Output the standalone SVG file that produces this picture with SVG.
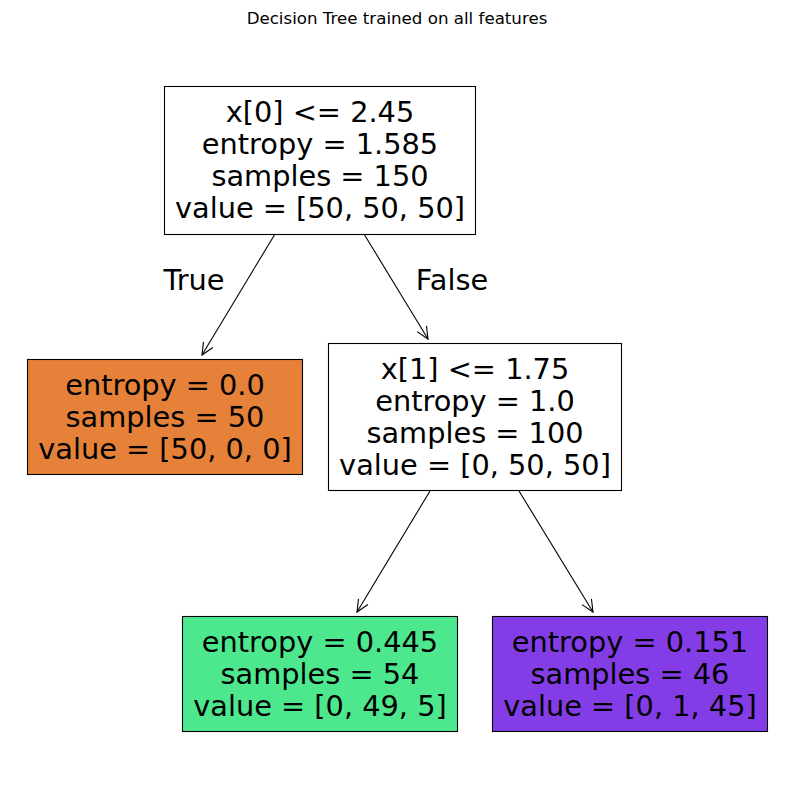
<svg xmlns="http://www.w3.org/2000/svg" width="794" height="812" viewBox="0 0 794 812">
<defs>
<style>
.t{font-family:"DejaVu Sans",sans-serif;font-size:28.8px;fill:#000;text-anchor:middle}
.title{font-family:"DejaVu Sans",sans-serif;font-size:16.67px;fill:#000;text-anchor:middle}
.box{stroke:#000;stroke-width:1.1}
.edge{stroke:#000;stroke-width:1.1;fill:none;marker-end:url(#ah)}
</style>
<marker id="ah" markerUnits="userSpaceOnUse" viewBox="0 0 14 14" refX="13" refY="7" markerWidth="14" markerHeight="14" orient="auto">
<path d="M1,1.5 L13,7 L1,12.5" fill="none" stroke="#000" stroke-width="1.1"/>
</marker>
</defs>
<rect width="794" height="812" fill="#fff"/>
<text class="title" x="397" y="24">Decision Tree trained on all features</text>
<g id="edges">
<line class="edge" x1="275" y1="234" x2="202" y2="355"/>
<line class="edge" x1="364" y1="234" x2="428" y2="339"/>
<line class="edge" x1="430" y1="491" x2="357" y2="612"/>
<line class="edge" x1="519" y1="491" x2="593" y2="612"/>
<text class="t" x="194" y="290">True</text>
<text class="t" x="452" y="290">False</text>
</g>
<g id="root">
<rect class="box" x="164.5" y="86.5" width="311" height="148" fill="#ffffff"/>
<text class="t" x="320" y="121.5">x[0] &lt;= 2.45</text>
<text class="t" x="320" y="153.5">entropy = 1.585</text>
<text class="t" x="320" y="185.5">samples = 150</text>
<text class="t" x="320" y="217.5">value = [50, 50, 50]</text>
</g>
<g id="leaf1">
<rect class="box" x="27.5" y="359.5" width="275" height="115" fill="#e58139"/>
<text class="t" x="165" y="394.5">entropy = 0.0</text>
<text class="t" x="165" y="426.5">samples = 50</text>
<text class="t" x="165" y="458.5">value = [50, 0, 0]</text>
</g>
<g id="split2">
<rect class="box" x="328.5" y="343.5" width="293" height="147" fill="#ffffff"/>
<text class="t" x="475" y="378.5">x[1] &lt;= 1.75</text>
<text class="t" x="475" y="410.5">entropy = 1.0</text>
<text class="t" x="475" y="442.5">samples = 100</text>
<text class="t" x="475" y="474.5">value = [0, 50, 50]</text>
</g>
<g id="leaf2">
<rect class="box" x="182.5" y="616.5" width="275" height="115" fill="#4de88e"/>
<text class="t" x="320" y="651.5">entropy = 0.445</text>
<text class="t" x="320" y="683.5">samples = 54</text>
<text class="t" x="320" y="715.5">value = [0, 49, 5]</text>
</g>
<g id="leaf3">
<rect class="box" x="492.5" y="616.5" width="275" height="115" fill="#843de6"/>
<text class="t" x="630" y="651.5">entropy = 0.151</text>
<text class="t" x="630" y="683.5">samples = 46</text>
<text class="t" x="630" y="715.5">value = [0, 1, 45]</text>
</g>
</svg>
